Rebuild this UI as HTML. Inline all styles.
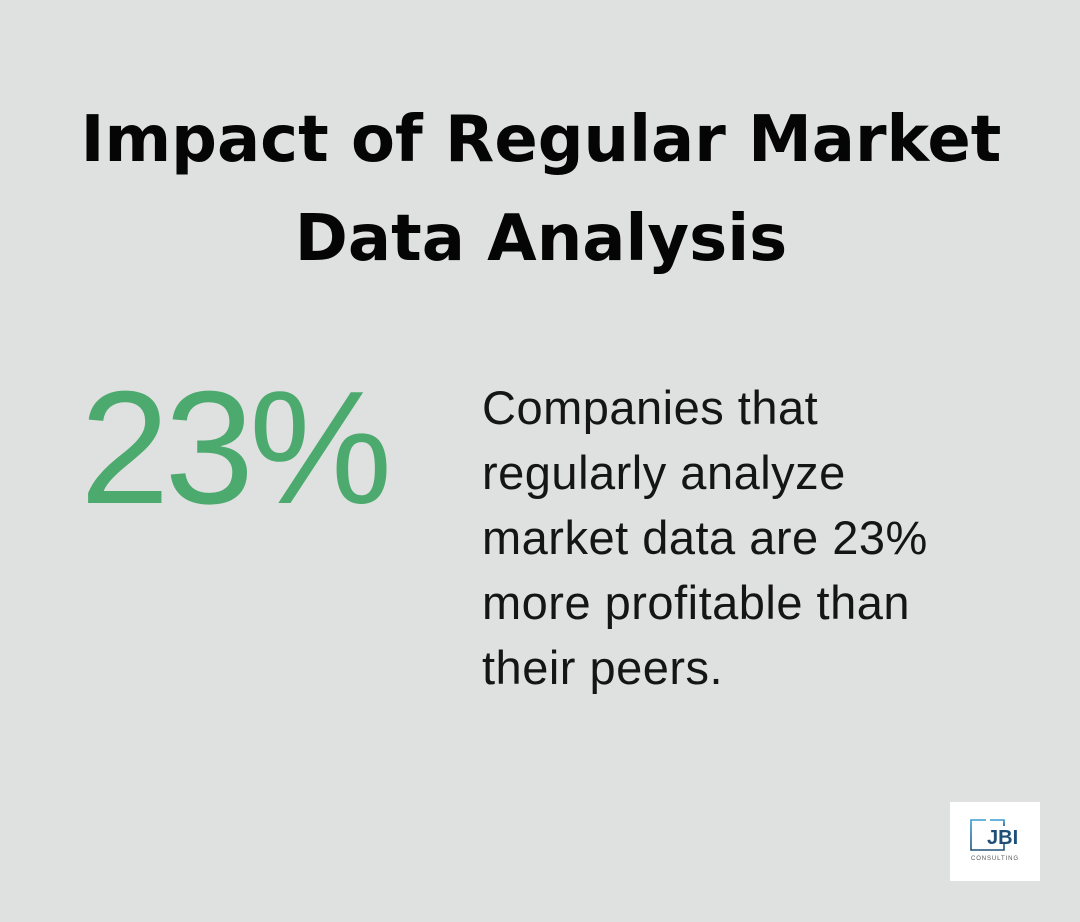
<!DOCTYPE html>
<html>
<head>
<meta charset="utf-8">
<style>
  html, body { margin:0; padding:0; }
  body { width:1080px; height:922px; background:#dfe1e0; position:relative; overflow:hidden; }
  .title { position:absolute; left:0; top:91px; width:1082px; text-align:center;
    font-family:"DejaVu Sans", "Liberation Sans", sans-serif; font-weight:bold; font-size:64px;
    line-height:99px; color:#050505; white-space:nowrap; }
  .big { position:absolute; left:80px; top:368px; font-family:"Liberation Sans", sans-serif;
    font-size:161px; line-height:161px; color:#4caa6e; letter-spacing:-5px; white-space:nowrap; }
  .body { position:absolute; left:482px; top:375px; font-family:"Liberation Sans", sans-serif;
    font-size:47px; line-height:65px; color:#151515; letter-spacing:0.5px; white-space:nowrap; }
  .logo { position:absolute; left:950px; top:802px; width:90px; height:79px; background:#fff; }
</style>
</head>
<body>
<div class="title">Impact of Regular Market<br>Data Analysis</div>
<div class="big">23%</div>
<div class="body">Companies that<br>regularly analyze<br>market data are 23%<br>more profitable than<br>their peers.</div>
<div class="logo">
  <svg width="90" height="79" viewBox="0 0 90 79">
    <defs>
      <linearGradient id="g" x1="0" y1="0" x2="0" y2="1">
        <stop offset="0" stop-color="#3a9bd0"/>
        <stop offset="1" stop-color="#1d4f7a"/>
      </linearGradient>
    </defs>
    <path d="M36 18 H21 V48 H54 V40" fill="none" stroke="url(#g)" stroke-width="1.6"/>
    <path d="M40 18 H54 V24" fill="none" stroke="url(#g)" stroke-width="1.6"/>
    <text x="37" y="42" font-family="Liberation Sans, sans-serif" font-weight="bold" font-size="20" fill="#1f4f78">JBI</text>
    <text x="21" y="58" font-family="Liberation Sans, sans-serif" font-size="6" fill="#555" letter-spacing="0.9">CONSULTING</text>
  </svg>
</div>
</body>
</html>
